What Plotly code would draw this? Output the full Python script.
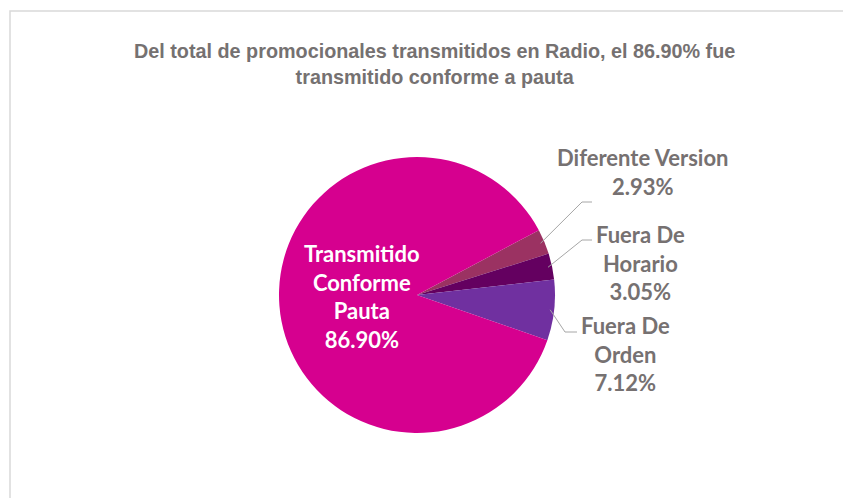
import math
import plotly.graph_objects as go

categories = ["Diferente Version", "Fuera De Horario", "Fuera De Orden", "Transmitido Conforme Pauta"]
label_lines = [["Diferente Version"], ["Fuera De", "Horario"], ["Fuera De", "Orden"], ["Transmitido", "Conforme", "Pauta"]]
values = [2.93, 3.05, 7.12, 86.90]
colors = ["#9B3262", "#640060", "#7030A0", "#D6008F"]
title_text = "Del total de promocionales transmitidos en Radio, el 86.90% fue<br>transmitido conforme a pauta"

W, H = 843, 498
cx, cy, R = 417, 295, 138
rotation = 62

fig = go.Figure()
fig.add_trace(go.Pie(
    labels=categories, values=values, sort=False, direction="clockwise",
    rotation=rotation, marker=dict(colors=colors, line=dict(width=0)),
    textinfo="none", hoverinfo="label+percent", showlegend=False,
    domain=dict(x=[(cx - R) / W, (cx + R) / W], y=[(H - cy - R) / H, (H - cy + R) / H]),
))

def px(x):
    return x / W

def py(y):
    return 1 - y / H

lab_font = dict(family="Lato, Open Sans, sans-serif", size=22, color="#767171")
ann = []
shapes = []
# outside label anchors (label centre x, first line centre y) and elbow points
label_pos = [(642, 158, 582, 202, 592), (640, 235, 582, 240, 592), (625, 326, 565, 332, 577)]
total = sum(values)
start = rotation
for i, v in enumerate(values):
    sweep = v / total * 360
    mid = math.radians(start + sweep / 2)
    start += sweep
    text = "<b>" + "<br>".join(label_lines[i] + [f"{v:.2f}%"]) + "</b>"
    if i < 3:
        lx, ly, ex, ey, hx = label_pos[i]
        ann.append(dict(x=px(lx), y=py(ly - 16), xref="paper", yref="paper", text=text,
                        showarrow=False, xanchor="center", yanchor="top", font=lab_font,
                        align="center"))
        ox = cx + R * math.sin(mid)
        oy = cy - R * math.cos(mid)
        shapes.append(dict(type="path", xref="paper", yref="paper",
                           path=f"M {px(ox - 4*math.sin(mid))},{py(oy + 4*math.cos(mid))} L {px(ex)},{py(ey)} L {px(hx)},{py(ey)}",
                           line=dict(color="#A6A6A6", width=1)))
    else:
        ann.append(dict(x=px(362), y=py(296), xref="paper", yref="paper", text=text,
                        showarrow=False, xanchor="center", yanchor="middle",
                        font=dict(family="Lato, Open Sans, sans-serif", size=22, color="white"),
                        align="center"))

ann.append(dict(x=px(434), y=py(64), xref="paper", yref="paper", text="<b>" + title_text + "</b>",
                showarrow=False, xanchor="center", yanchor="middle",
                font=dict(family="Liberation Sans, Arial, sans-serif", size=19.8, color="#757171"),
                align="center"))

shapes.append(dict(type="rect", xref="paper", yref="paper", x0=px(10), y0=-0.05, x1=1.05, y1=py(11),
                   line=dict(color="#D9D9D9", width=1.5), fillcolor="rgba(0,0,0,0)", layer="below"))

fig.update_layout(width=W, height=H, margin=dict(l=0, r=0, t=0, b=0),
                  paper_bgcolor="white", plot_bgcolor="white",
                  annotations=ann, shapes=shapes)
fig.write_html("out.html", config={"displayModeBar": False},
               post_script="document.body.style.margin='0';document.body.style.overflow='hidden';")
